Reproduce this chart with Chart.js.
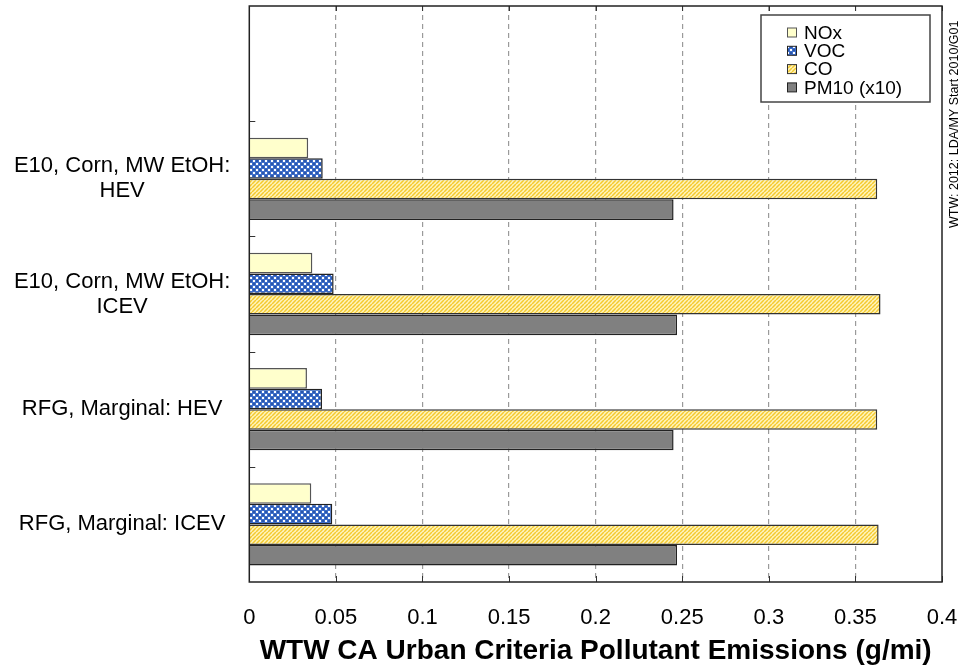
<!DOCTYPE html>
<html>
<head>
<meta charset="utf-8">
<script src="https://cdn.jsdelivr.net/npm/chart.js@4.4.0/dist/chart.umd.min.js"></script>
<style>
  html, body { margin: 0; padding: 0; background: #fff; }
  #wrap { width: 962px; height: 668px; }
</style>
</head>
<body>
<div id="wrap"><canvas id="mychart" width="962" height="668"></canvas></div>
<script>
// categories, top slot left empty like the original
var categories = ['', ['E10, Corn, MW EtOH:', 'HEV'], ['E10, Corn, MW EtOH:', 'ICEV'], 'RFG, Marginal: HEV', 'RFG, Marginal: ICEV'];
var seriesNames = ['NOx', 'VOC', 'CO', 'PM10 (x10)'];
var noxValues = [null, 0.0340, 0.0364, 0.0333, 0.0358];
var vocValues = [null, 0.0424, 0.0487, 0.0420, 0.0479];
var coValues = [null, 0.3626, 0.3645, 0.3626, 0.3634];
var pm10Values = [null, 0.2450, 0.2470, 0.2450, 0.2470];
var xTickLabels = ['0', '0.05', '0.1', '0.15', '0.2', '0.25', '0.3', '0.35', '0.4'];
var axisTitle = 'WTW CA Urban Criteria Pollutant Emissions (g/mi)';
var sideNote = 'WTW: 2012: LDA/MY Start 2010/G01';

var FONT = '"Liberation Sans", Arial, sans-serif';

function makePattern(size, paint) {
    var c = document.createElement('canvas');
    c.width = size;
    c.height = size;
    var g = c.getContext('2d');
    paint(g, size);
    return g.createPattern(c, 'repeat');
}

// blue checker with white dots (VOC)
var vocFill = makePattern(6, function (g) {
    g.fillStyle = '#3f6fcb';
    g.fillRect(0, 0, 6, 6);
    g.fillStyle = '#2b57aa';
    g.fillRect(1, 1, 2, 2);
    g.fillRect(4, 4, 2, 2);
    g.fillStyle = '#ffffff';
    g.fillRect(4, 1, 2, 2);
    g.fillRect(1, 4, 2, 2);
});

// yellow diagonal hatch (CO)
var coFill = makePattern(4, function (g) {
    g.fillStyle = '#fff4bd';
    g.fillRect(0, 0, 4, 4);
    g.strokeStyle = '#f4c92e';
    g.lineWidth = 1.5;
    [-4, 0, 4].forEach(function (k) {
        g.beginPath();
        g.moveTo(k, 4);
        g.lineTo(k + 4, 0);
        g.stroke();
    });
});

// frame, inner tick marks and side note
var frame = {
    id: 'frame',
    afterDraw: function (chart) {
        var ctx = chart.ctx;
        var a = chart.chartArea;
        var xs = chart.scales.x, ys = chart.scales.y;
        ctx.save();
        ctx.strokeStyle = '#333';
        ctx.lineWidth = 1;
        xs.ticks.forEach(function (t) {
            var px = Math.round(xs.getPixelForValue(t.value)) + 0.5;
            ctx.beginPath();
            ctx.moveTo(px, a.bottom);
            ctx.lineTo(px, a.bottom - 6);
            ctx.moveTo(px, a.top);
            ctx.lineTo(px, a.top + 5);
            ctx.stroke();
        });
        for (var i = 0; i < categories.length - 1; i++) {
            var py = Math.round(ys.getPixelForValue(i + 0.5)) + 0.5;
            ctx.beginPath();
            ctx.moveTo(a.left, py);
            ctx.lineTo(a.left + 6, py);
            ctx.stroke();
        }
        ctx.strokeStyle = '#222';
        ctx.lineWidth = 1.5;
        ctx.strokeRect(a.left, a.top, a.right - a.left, a.bottom - a.top);

        ctx.translate(955, 228);
        ctx.rotate(-Math.PI / 2);
        ctx.fillStyle = '#000';
        ctx.font = '12.5px ' + FONT;
        ctx.textBaseline = 'middle';
        ctx.fillText(sideNote, 0, 0);
        ctx.restore();
    }
};

// boxed legend inside the plot
var boxLegend = {
    id: 'boxLegend',
    afterDraw: function (chart) {
        var ctx = chart.ctx;
        ctx.save();
        ctx.fillStyle = '#fff';
        ctx.fillRect(761, 15, 169, 87);
        ctx.strokeStyle = '#444';
        ctx.lineWidth = 1.5;
        ctx.strokeRect(761, 15, 169, 87);
        ctx.font = '19px ' + FONT;
        ctx.textBaseline = 'middle';
        chart.data.datasets.forEach(function (ds, i) {
            var cy = 32.5 + i * 18.3;
            ctx.fillStyle = ds.backgroundColor;
            ctx.fillRect(787, cy - 4.5, 10, 9);
            ctx.strokeStyle = ds.borderColor;
            ctx.lineWidth = 1;
            ctx.strokeRect(787.5, cy - 4.5, 9, 9);
            ctx.fillStyle = '#000';
            ctx.fillText(ds.label, 804, cy + 1);
        });
        ctx.restore();
    }
};

var ctr = document.getElementById('mychart');

new Chart(ctr, {
    type: 'bar',
    data: {
        labels: categories,
        datasets: [
            { label: seriesNames[0], data: noxValues, backgroundColor: '#ffffcc', borderColor: '#555', borderWidth: 1.5 },
            { label: seriesNames[1], data: vocValues, backgroundColor: vocFill, borderColor: '#222', borderWidth: 1.5 },
            { label: seriesNames[2], data: coValues, backgroundColor: coFill, borderColor: '#333', borderWidth: 1.5 },
            { label: seriesNames[3], data: pm10Values, backgroundColor: '#808080', borderColor: '#222', borderWidth: 1.5 }
        ]
    },
    options: {
        indexAxis: 'y',
        responsive: false,
        animation: false,
        events: [],
        datasets: {
            bar: { barPercentage: 1, categoryPercentage: 0.714 }
        },
        layout: { padding: { top: 6, right: 20, bottom: 0, left: 0 } },
        plugins: {
            legend: { display: false },
            tooltip: { enabled: false }
        },
        scales: {
            x: {
                min: 0,
                max: 0.4,
                ticks: {
                    stepSize: 0.05,
                    color: '#000',
                    padding: 23,
                    maxRotation: 0,
                    font: { family: FONT, size: 22 },
                    callback: function (v, i) { return xTickLabels[i]; }
                },
                grid: {
                    drawTicks: false,
                    lineWidth: 1.2,
                    color: function (c) {
                        var v = c.tick ? c.tick.value : 0;
                        return (v > 0.001 && v < 0.399) ? '#9a9a9a' : 'rgba(0,0,0,0)';
                    }
                },
                border: { display: false, dash: [5, 4] },
                title: {
                    display: true,
                    text: axisTitle,
                    color: '#000',
                    padding: { top: 0, bottom: 0 },
                    font: { family: FONT, size: 28, weight: 'bold' }
                },
                afterFit: function (s) {
                    s.height = 86;
                    s.paddingLeft = 0;
                    s.paddingRight = 0;
                }
            },
            y: {
                ticks: {
                    color: '#000',
                    padding: 11,
                    crossAlign: 'center',
                    font: { family: FONT, size: 22, lineHeight: 1.14 }
                },
                grid: { display: false },
                border: { display: false },
                afterFit: function (s) {
                    s.width = 249.3;
                    s.paddingTop = 0;
                    s.paddingBottom = 0;
                }
            }
        }
    },
    plugins: [frame, boxLegend]
});
</script>
</body>
</html>
